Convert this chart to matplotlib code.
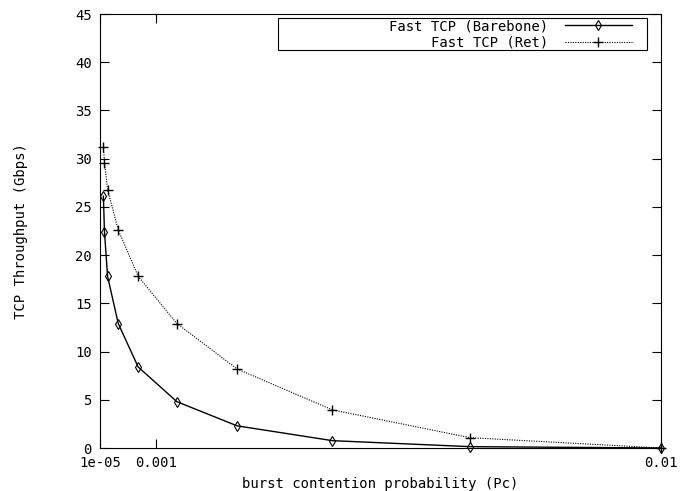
import numpy as np
import matplotlib
matplotlib.use("Agg")
import matplotlib.pyplot as plt
from matplotlib.patches import Rectangle

# burst contention probability (Pc) and throughput
pc = [7e-5, 9e-5, 1.45e-4, 3.35e-4, 6.9e-4, 1.38e-3, 2.45e-3, 4.15e-3, 6.6e-3, 1e-2]
barebone = [26.1, 22.4, 17.8, 12.9, 8.4, 4.8, 2.3, 0.76, 0.14, 0.0]
ret = [31.2, 29.6, 26.8, 22.6, 17.8, 12.9, 8.2, 3.95, 1.07, 0.0]

xticks = [1e-5, 0.001, 0.01]
xtick_labels = ["1e-05", "0.001", "0.01"]
yticks = list(range(0, 50, 5))

plt.rcParams['font.family'] = ['DejaVu Sans Mono']
FS = 10

fig = plt.figure(figsize=(6.91, 4.91), dpi=100)
ax = fig.add_axes([100 / 691, 43 / 491, 561 / 691, 434 / 491])

ax.plot(pc, barebone, color='black', linewidth=1.0, marker='d', markersize=5,
        markerfacecolor='none', markeredgewidth=0.8, clip_on=False,
        label='Fast TCP (Barebone)')
ax.plot(pc, ret, color='black', linewidth=0.8, linestyle=(0, (1, 1.2)),
        marker='+', markersize=7, markeredgewidth=1.0, clip_on=False,
        label='Fast TCP (Ret)')

ax.set_xlim(1e-5, 0.01)
ax.set_ylim(0, 45)
ax.set_xticks(xticks)
ax.set_xticklabels(xtick_labels)
ax.set_yticks(yticks)
ax.tick_params(direction='in', length=6.5, width=0.8, top=True, right=True,
               labelsize=FS, pad=6)
for s in ax.spines.values():
    s.set_linewidth(0.8)

ax.set_xlabel('burst contention probability (Pc)', fontsize=FS, labelpad=5)
ax.set_ylabel('TCP Throughput (Gbps)', fontsize=FS, labelpad=34)

# gnuplot-style key: right-aligned labels, samples on the right, wide box
leg = ax.legend(loc='upper right', bbox_to_anchor=(0.948, 0.988),
                markerfirst=False, frameon=False, fontsize=FS,
                handlelength=4.8, handletextpad=1.2, labelspacing=0.2,
                borderpad=0, borderaxespad=0)
ax.add_patch(Rectangle((0.3173, 0.917), 0.6578, 0.0737, transform=ax.transAxes,
                       fill=False, edgecolor='black', linewidth=0.8, zorder=5))

fig.savefig('out.png', dpi=100)
